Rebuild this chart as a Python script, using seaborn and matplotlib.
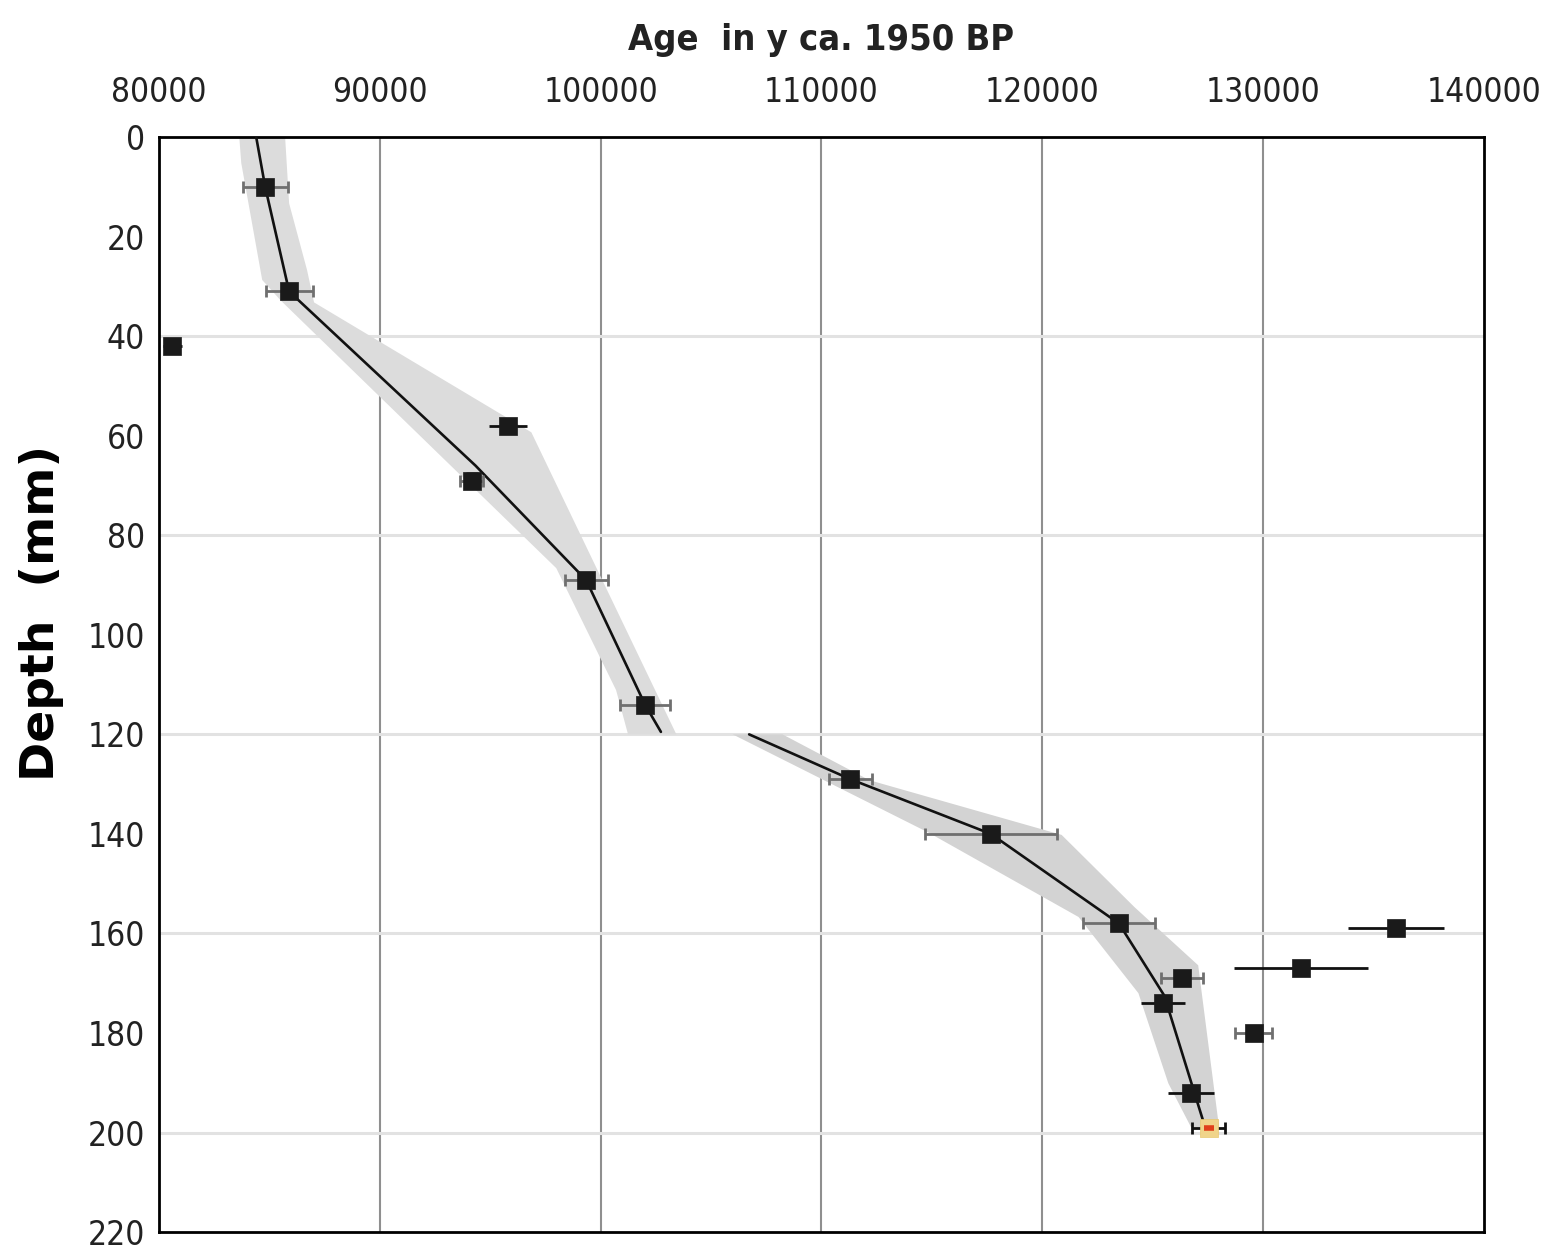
import numpy as np
import pandas as pd
import matplotlib
matplotlib.use("Agg")
import matplotlib.pyplot as plt
import seaborn as sns
from matplotlib import font_manager

# dated samples: age (y ca. 1950 BP), depth (mm), age error, depth error
sample_age = [84808, 85892, 80609, 95824, 94153, 99345, 102009, 111309, 117675,
              123476, 126321, 125463, 126727, 127540, 129571, 131738, 136027]
sample_depth = [10, 31, 42, 58, 69, 89, 114, 129, 140, 158, 169, 174, 192, 199, 180, 167, 159]
age_err = [1020, 1060, 420, 860, 540, 970, 1130, 970, 3000, 1650, 950, 990, 1040, 750, 840, 3030, 2170]
depth_err = [1.2, 0, 1.2, 0, 1.5, 0, 1.2, 0, 0, 0, 0, 1.4, 0, 0, 1.5, 0, 0]
# gray = error bar with caps, black = without caps, cap = black with caps (top sample)
err_kind = ["gray", "gray", "black", "black", "gray", "gray", "gray", "gray", "gray",
            "gray", "gray", "black", "black", "cap", "gray", "black", "black"]

# age model (two segments, hiatus at 120 mm)
model1_depth = [0, 10, 31, 66, 89, 114, 119.5]
model1_age = [84402, 84808, 85892, 94334, 99345, 102009, 102731]
model2_depth = [120, 129, 140, 158, 172.5, 198]
model2_age = [106727, 111309, 117675, 123476, 125530, 127313]

# 95% envelope edges
env1_left_depth = [0, 5.2, 28.7, 32.8, 86.6, 111.1, 120]
env1_left_age = [83634, 83724, 84673, 85508, 97991, 100700, 101242]
env1_right_depth = [0, 13.3, 26.7, 33.2, 59.3, 120]
env1_right_age = [85711, 85892, 86704, 87020, 96862, 103431]
env2_left_depth = [120, 139.8, 156.7, 172.0, 190.1, 199]
env2_left_age = [105982, 114876, 121648, 124357, 125711, 126749]
env2_right_depth = [120, 129.2, 140.2, 154.7, 166.4, 199.1]
env2_right_age = [108239, 112167, 120880, 124176, 127065, 128014]

x_ticks = [80000, 90000, 100000, 110000, 120000, 130000, 140000]
y_ticks = list(range(0, 221, 20))
h_grid = [40, 80, 120, 160, 200]

sns.set_theme(style="white")
plt.rcParams['font.family'] = ['DejaVu Sans']

names = {f.name for f in font_manager.fontManager.ttflist}
if 'Liberation Sans Narrow' in names:
    narrow = dict(family='Liberation Sans Narrow')
else:
    narrow = dict(family='DejaVu Sans', stretch='condensed')

fig = plt.figure(figsize=(15.44, 12.47), dpi=100)
ax = fig.add_axes([0.103, 0.012, 0.858, 0.878])

# envelopes
ax.fill(np.concatenate([env1_left_age, env1_right_age[::-1]]),
        np.concatenate([env1_left_depth, env1_right_depth[::-1]]),
        color='#dcdcdc', lw=0, zorder=1)
ax.fill(np.concatenate([env2_left_age, env2_right_age[::-1]]),
        np.concatenate([env2_left_depth, env2_right_depth[::-1]]),
        color='#d3d3d3', lw=0, zorder=1)

# grid
for x in x_ticks[1:-1]:
    ax.axvline(x, color='#8f8f8f', lw=1.5, zorder=0.5)
for y in h_grid:
    ax.axhline(y, color='#e2e2e2', lw=2.2, zorder=0.5)

# age model
sns.lineplot(x=model1_age, y=model1_depth, sort=False, estimator=None,
             color='#111111', lw=1.9, ax=ax, zorder=3)
sns.lineplot(x=model2_age, y=model2_depth, sort=False, estimator=None,
             color='#111111', lw=1.9, ax=ax, zorder=3)

# error bars
df = pd.DataFrame(dict(age=sample_age, depth=sample_depth, xerr=age_err,
                       yerr=depth_err, kind=err_kind))
for _, r in df.iterrows():
    yerr = r.yerr if r.yerr else None
    if r.kind == "gray":
        ax.errorbar(r.age, r.depth, xerr=r.xerr, yerr=yerr,
                    fmt='none', ecolor='#6f6f6f', elinewidth=2, capsize=4.5,
                    capthick=2, zorder=4)
    elif r.kind == "cap":
        ax.errorbar(r.age, r.depth, xerr=r.xerr, fmt='none', ecolor='#111111',
                    elinewidth=2, capsize=4.5, capthick=2, zorder=4)
    else:
        ax.errorbar(r.age, r.depth, xerr=r.xerr, yerr=yerr,
                    fmt='none', ecolor='#111111', elinewidth=2, capsize=0,
                    zorder=4)

main = df[df.kind != "cap"]
sns.scatterplot(data=main, x='age', y='depth', marker='s', s=150, color='#1a1a1a',
                edgecolor='#1a1a1a', linewidth=0.5, ax=ax, zorder=5)
special = df[df.kind == "cap"]
sns.scatterplot(data=special, x='age', y='depth', marker='s', s=150, color='#f0d48a',
                edgecolor='#e8c870', linewidth=0.5, ax=ax, zorder=5)
sns.scatterplot(data=special, x='age', y='depth', marker='_', s=50, color='#e0401a',
                linewidth=4, ax=ax, zorder=6)

ax.set_xlim(80000, 140000)
ax.set_ylim(220, 0)
ax.set_xticks(x_ticks)
ax.set_yticks(y_ticks)
ax.xaxis.tick_top()
ax.xaxis.set_label_position('top')
ax.tick_params(axis='x', length=0, pad=20, labelsize=24, labelcolor='#222222')
ax.tick_params(axis='y', length=0, pad=10, labelsize=24, labelcolor='#222222')
for lab in ax.get_xticklabels() + ax.get_yticklabels():
    lab.set_fontfamily(narrow['family'])
    if 'stretch' in narrow:
        lab.set_fontstretch(narrow['stretch'])

ax.set_xlabel('Age  in y ca. 1950 BP', fontsize=26, fontweight='bold', labelpad=19,
              color='#222222', **narrow)
ax.set_ylabel('Depth  (mm)', fontsize=34, fontweight='bold', color='black')
ax.yaxis.set_label_coords(-0.072, 0.565)

for s in ax.spines.values():
    s.set_color('black')
    s.set_linewidth(2)
    s.set_visible(True)

fig.savefig('out.png', dpi=100)
